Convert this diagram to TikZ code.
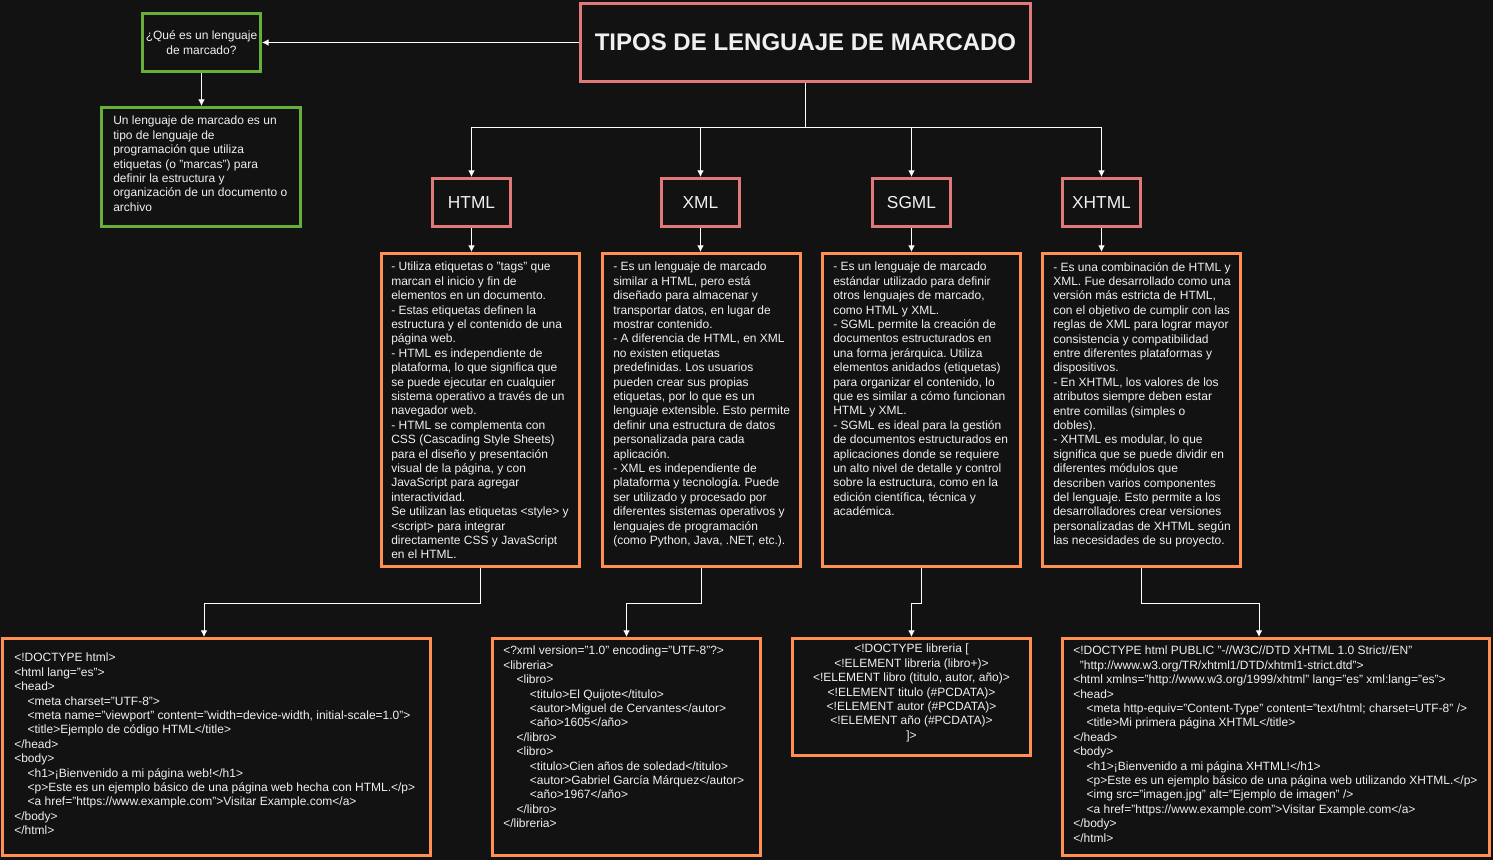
\documentclass[tikz,border=0pt]{standalone}
\usepackage{fontspec}
\setmainfont{Liberation Sans}
\usetikzlibrary{arrows.meta}
\definecolor{fondo}{RGB}{18,18,18}
\definecolor{verde}{RGB}{102,176,58}
\definecolor{rojo}{RGB}{224,122,122}
\definecolor{naranja}{RGB}{255,143,82}
\definecolor{letra}{RGB}{240,240,240}
\newcommand{\sangria}{\hspace*{10pt}}
\frenchspacing
\begin{document}
\begin{tikzpicture}[>={Latex[length=5pt,width=5pt]}, x=0.75pt, y=-0.75pt,
    caja/.style={draw, line width=2.25pt, fill=fondo, inner sep=0pt, text=letra},
    cajaverde/.style={caja, draw=verde},
    cajaroja/.style={caja, draw=rojo},
    cajanaranja/.style={caja, draw=naranja},
    tipo/.style={cajaroja, minimum width=58.5pt, minimum height=36pt, font=\fontsize{13}{15.6}\selectfont},
    desc/.style={cajanaranja, minimum width=148.5pt, minimum height=234.75pt},
    texto/.style={text=letra, inner sep=0pt, align=left, anchor=north west, font=\fontsize{9}{10.8}\selectfont},
    linea/.style={draw=white, line width=0.75pt, ->}]
\useasboundingbox (0,0) rectangle (1493,860);
\fill[fondo] (0,0) rectangle (1493,860);

% cabecera
\node[cajaroja, minimum width=337.5pt, minimum height=58.5pt, font=\fontsize{18}{21.6}\selectfont\bfseries] (titulo) at (805.5,42.5) {TIPOS DE LENGUAJE DE MARCADO};
\node[cajaverde, minimum width=88.5pt, minimum height=43.5pt, align=center, font=\fontsize{9}{10.8}\selectfont] (pregunta) at (201.5,42.5) {¿Qué es un lenguaje\\de marcado?};
\node[cajaverde, minimum width=149.25pt, minimum height=89.25pt] (respuesta) at (201,167) {};
\node[texto] (respuestatxt) at (113,116) {Un lenguaje de marcado es un\\tipo de lenguaje de\\programación que utiliza\\etiquetas (o "marcas") para\\definir la estructura y\\organización de un documento o\\archivo};

% tipos
\node[tipo] (thtml) at (471.5,202.5) {HTML};
\node[tipo] (txml) at (700.5,202.5) {XML};
\node[tipo] (tsgml) at (911.5,202.5) {SGML};
\node[tipo] (txhtml) at (1101.5,202.5) {XHTML};

% descripciones
\node[desc] (dhtml) at (480.5,410) {};
\node[desc] (dxml) at (701.5,410) {};
\node[desc] (dsgml) at (921.5,410) {};
\node[desc] (dxhtml) at (1141.5,410) {};
\node[texto] (dhtmltxt) at (391,262) {- Utiliza etiquetas o "tags" que\\marcan el inicio y fin de\\elementos en un documento.\\- Estas etiquetas definen la\\estructura y el contenido de una\\página web.\\- HTML es independiente de\\plataforma, lo que significa que\\se puede ejecutar en cualquier\\sistema operativo a través de un\\navegador web.\\- HTML se complementa con\\CSS (Cascading Style Sheets)\\para el diseño y presentación\\visual de la página, y con\\JavaScript para agregar\\interactividad.\\Se utilizan las etiquetas <style> y\\<script> para integrar\\directamente CSS y JavaScript\\en el HTML.};
\node[texto] (dxmltxt) at (613,262) {- Es un lenguaje de marcado\\similar a HTML, pero está\\diseñado para almacenar y\\transportar datos, en lugar de\\mostrar contenido.\\- A diferencia de HTML, en XML\\no existen etiquetas\\predefinidas. Los usuarios\\pueden crear sus propias\\etiquetas, por lo que es un\\lenguaje extensible. Esto permite\\definir una estructura de datos\\personalizada para cada\\aplicación.\\- XML es independiente de\\plataforma y tecnología. Puede\\ser utilizado y procesado por\\diferentes sistemas operativos y\\lenguajes de programación\\(como Python, Java, .NET, etc.).};
\node[texto] (dsgmltxt) at (833,262) {- Es un lenguaje de marcado\\estándar utilizado para definir\\otros lenguajes de marcado,\\como HTML y XML.\\- SGML permite la creación de\\documentos estructurados en\\una forma jerárquica. Utiliza\\elementos anidados (etiquetas)\\para organizar el contenido, lo\\que es similar a cómo funcionan\\HTML y XML.\\- SGML es ideal para la gestión\\de documentos estructurados en\\aplicaciones donde se requiere\\un alto nivel de detalle y control\\sobre la estructura, como en la\\edición científica, técnica y\\académica.};
\node[texto] (dxhtmltxt) at (1053,262) {- Es una combinación de HTML y\\XML. Fue desarrollado como una\\versión más estricta de HTML,\\con el objetivo de cumplir con las\\reglas de XML para lograr mayor\\consistencia y compatibilidad\\entre diferentes plataformas y\\dispositivos.\\- En XHTML, los valores de los\\atributos siempre deben estar\\entre comillas (simples o\\dobles).\\- XHTML es modular, lo que\\significa que se puede dividir en\\diferentes módulos que\\describen varios componentes\\del lenguaje. Esto permite a los\\desarrolladores crear versiones\\personalizadas de XHTML según\\las necesidades de su proyecto.};

% ejemplos de codigo
\node[cajanaranja, minimum width=321pt, minimum height=162.75pt] (chtml) at (216.5,747) {};
\node[cajanaranja, minimum width=201pt, minimum height=162.75pt] (cxml) at (626.5,747) {};
\node[cajanaranja, minimum width=178.5pt, minimum height=87.75pt] (csgml) at (911.5,697) {};
\node[cajanaranja, minimum width=320.25pt, minimum height=162.75pt] (cxhtml) at (1276,747) {};
\node[texto] (chtmltxt) at (14,653) {<!DOCTYPE html>\\<html lang="es">\\<head>\\\sangria<meta charset="UTF-8">\\\sangria<meta name="viewport" content="width=device-width, initial-scale=1.0">\\\sangria<title>Ejemplo de código HTML</title>\\</head>\\<body>\\\sangria<h1>¡Bienvenido a mi página web!</h1>\\\sangria<p>Este es un ejemplo básico de una página web hecha con HTML.</p>\\\sangria<a href="https://www.example.com">Visitar Example.com</a>\\</body>\\</html>};
\node[texto] (cxmltxt) at (503,646) {<?xml version="1.0" encoding="UTF-8"?>\\<libreria>\\\sangria<libro>\\\sangria\sangria<titulo>El Quijote</titulo>\\\sangria\sangria<autor>Miguel de Cervantes</autor>\\\sangria\sangria<año>1605</año>\\\sangria</libro>\\\sangria<libro>\\\sangria\sangria<titulo>Cien años de soledad</titulo>\\\sangria\sangria<autor>Gabriel García Márquez</autor>\\\sangria\sangria<año>1967</año>\\\sangria</libro>\\</libreria>};
\node[texto, align=center, anchor=north] (csgmltxt) at (911.5,644) {<!DOCTYPE libreria [\\<!ELEMENT libreria (libro+)>\\<!ELEMENT libro (titulo, autor, año)>\\<!ELEMENT titulo (\#PCDATA)>\\<!ELEMENT autor (\#PCDATA)>\\<!ELEMENT año (\#PCDATA)>\\]>};
\node[texto] (cxhtmltxt) at (1073,646) {<!DOCTYPE html PUBLIC "-//W3C//DTD XHTML 1.0 Strict//EN"\\\hspace*{5pt}"http://www.w3.org/TR/xhtml1/DTD/xhtml1-strict.dtd">\\<html xmlns="http://www.w3.org/1999/xhtml" lang="es" xml:lang="es">\\<head>\\\sangria<meta http-equiv="Content-Type" content="text/html; charset=UTF-8" />\\\sangria<title>Mi primera página XHTML</title>\\</head>\\<body>\\\sangria<h1>¡Bienvenido a mi página XHTML!</h1>\\\sangria<p>Este es un ejemplo básico de una página web utilizando XHTML.</p>\\\sangria<img src="imagen.jpg" alt="Ejemplo de imagen" />\\\sangria<a href="https://www.example.com">Visitar Example.com</a>\\</body>\\</html>};

% conectores
\draw[linea] (titulo.west) -- (pregunta.east);
\draw[linea] (pregunta.south) -- (pregunta.south |- respuesta.north);
\coordinate (reparto) at (805.5,127);
\foreach \t in {thtml,txml,tsgml,txhtml}
{
    \draw[linea] (titulo.south) -- (reparto) -| (\t.north);
}
\foreach \t/\d in {thtml/dhtml,txml/dxml,tsgml/dsgml,txhtml/dxhtml}
{
    \draw[linea] (\t.south) -- (\t.south |- \d.north);
}
\foreach \d/\c/\dx in {dhtml/chtml/-12.5,dxml/cxml/0,dsgml/csgml/0,dxhtml/cxhtml/-17}
{
    \draw[linea] (\d.south) -- ++(0,35.5) -| ([xshift=\dx*0.75pt]\c.north);
}
\end{tikzpicture}
\end{document}
